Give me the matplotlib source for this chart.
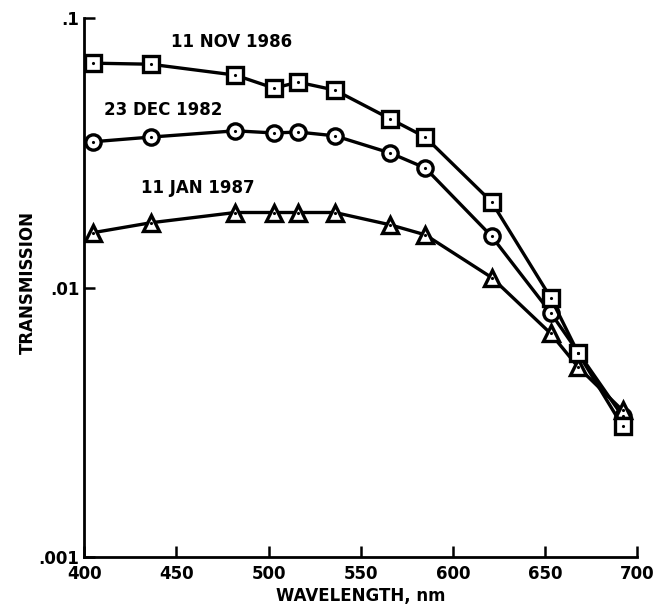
import matplotlib
matplotlib.use("Agg")
import matplotlib.pyplot as plt

plt.rcParams['font.family'] = ['DejaVu Sans']
plt.rcParams['font.weight'] = 'bold'

wavelength = [405, 436, 482, 503, 516, 536, 566, 585, 621, 653, 668, 692]

nov_1986 = [0.0681, 0.0675, 0.0615, 0.0550, 0.0579, 0.0541, 0.0423, 0.0362,
            0.0208, 0.00918, 0.00570, 0.00306]
dec_1982 = [0.0348, 0.0362, 0.0382, 0.0375, 0.0378, 0.0366, 0.0316, 0.0278,
            0.0155, 0.00807, 0.00574, 0.00333]
jan_1987 = [0.0160, 0.0174, 0.0190, 0.0190, 0.0190, 0.0190, 0.0171, 0.0157,
            0.0109, 0.00676, 0.00506, 0.00350]

series = [
    (dec_1982, 'o', 11),
    (jan_1987, '^', 12),
    (nov_1986, 's', 11),
]

# curve labels: (wavelength, transmission, text)
labels = [
    (447, 0.0815, '11 NOV 1986'),
    (411, 0.0456, '23 DEC 1982'),
    (431, 0.0234, '11 JAN 1987'),
]

fig = plt.figure(figsize=(6.68, 6.08), dpi=100)
ax = fig.add_axes([0.126, 0.084, 0.828, 0.886])

for vals, mk, ms in series:
    ax.plot(wavelength, vals, color='black', lw=2.4, marker=mk, ms=ms,
            mfc='white', mec='black', mew=2.4, zorder=3)
    # small dot in the middle of each symbol
    ax.plot(wavelength, vals, ls='none', marker='.', ms=2.5, color='black', zorder=4)

for x, y, s in labels:
    ax.text(x, y, s, fontsize=12, fontweight='bold', va='center')

ax.set_yscale('log')
ax.set_xlim(400, 700)
ax.set_ylim(0.001, 0.1)

ax.set_xticks([400, 450, 500, 550, 600, 650, 700])
ax.set_xticklabels(['400', '450', '500', '550', '600', '650', '700'])
ax.set_yticks([0.001, 0.01, 0.1])
ax.set_yticklabels(['.001', '.01', '.1'])
ax.minorticks_off()
ax.tick_params(axis='both', direction='in', length=8, width=1.8, labelsize=12)
ax.tick_params(axis='x', pad=6)

for side in ['top', 'right']:
    ax.spines[side].set_visible(False)
for side in ['left', 'bottom']:
    ax.spines[side].set_linewidth(2)

ax.set_xlabel('WAVELENGTH, nm', fontsize=12, fontweight='bold', labelpad=3)
ax.set_ylabel('TRANSMISSION', fontsize=12, fontweight='bold', labelpad=-2)
ax.yaxis.set_label_coords(-0.085, 0.51)

fig.savefig('out.png', dpi=100)
